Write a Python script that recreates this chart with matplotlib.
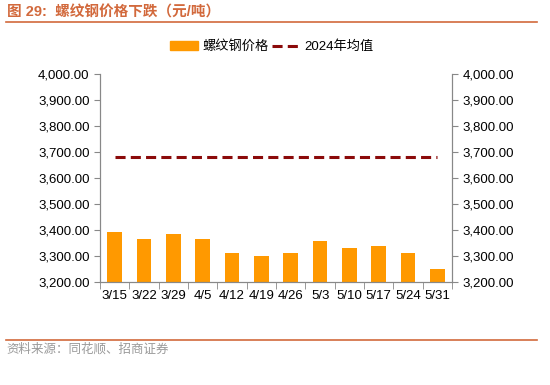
import matplotlib
matplotlib.use('Agg')
import matplotlib.pyplot as plt
import matplotlib.ticker as mticker
from matplotlib.lines import Line2D
import numpy as np

plt.rcParams['font.family'] = ['Liberation Sans', 'Noto Sans CJK SC']

# data
dates = ['3/15', '3/22', '3/29', '4/5', '4/12', '4/19', '4/26',
         '5/3', '5/10', '5/17', '5/24', '5/31']
rebar_price = [3392, 3367, 3386, 3364, 3310, 3299, 3312,
               3356, 3331, 3340, 3313, 3250]
avg_2024 = 3680
yticks = [3200, 3300, 3400, 3500, 3600, 3700, 3800, 3900, 4000]

bar_color = '#FF9900'
avg_color = '#8B0A0A'
accent = '#D2693C'
dash = (3.3, 1.7)

fig = plt.figure(figsize=(5.5, 3.85), dpi=100)
ax = fig.add_axes([0.182, 0.2675, 0.640, 0.540])

x = np.arange(len(dates))
ax.bar(x, rebar_price, width=0.5, color=bar_color, zorder=2)
ax.plot(x, [avg_2024] * len(dates), color=avg_color, lw=2.2,
        dashes=dash, zorder=3)

ax.set_xlim(-0.5, len(dates) - 0.5)
ax.set_ylim(yticks[0], yticks[-1])
ax.set_yticks(yticks)
ax.yaxis.set_major_formatter(mticker.StrMethodFormatter('{x:,.2f}'))
ax.set_xticks(x)
ax.set_xticklabels(dates)
ax.set_xticks(np.arange(-0.5, len(dates)), minor=True)
ax.tick_params(axis='x', which='major', length=0, labelsize=9.5, pad=6)
ax.tick_params(axis='x', which='minor', length=5, color='#888888')
ax.tick_params(axis='y', length=4, color='#888888', labelsize=9.5)

ax2 = ax.twinx()
ax2.set_ylim(ax.get_ylim())
ax2.set_yticks(yticks)
ax2.yaxis.set_major_formatter(mticker.StrMethodFormatter('{x:,.2f}'))
ax2.tick_params(axis='y', length=4, color='#888888', labelsize=9.5)

for a in (ax, ax2):
    a.spines['top'].set_visible(False)
    for s in ('left', 'right', 'bottom'):
        a.spines[s].set_color('#888888')

handles = [plt.Rectangle((0, 0), 1, 1, color=bar_color),
           Line2D([0], [0], color=avg_color, lw=2.2, dashes=dash)]
fig.legend(handles, ['螺纹钢价格', '2024年均值'], loc='center',
           bbox_to_anchor=(0.494, 0.878), ncol=2, frameon=False,
           fontsize=9.5, handlelength=2.1, columnspacing=0.3,
           handletextpad=0.3)

fig.text(0.012, 0.968, '图 29:  螺纹钢价格下跌（元/吨）', color=accent,
         fontsize=10.5, fontweight='bold', va='center')
fig.add_artist(Line2D([0.011, 0.976], [0.944, 0.944], color=accent, lw=1.2))
fig.add_artist(Line2D([0.011, 0.976], [0.117, 0.117], color=accent, lw=1.2))
fig.text(0.012, 0.092, '资料来源：同花顺、招商证券', color='#999999',
         fontsize=9, va='center')

fig.savefig('out.png', dpi=100)
